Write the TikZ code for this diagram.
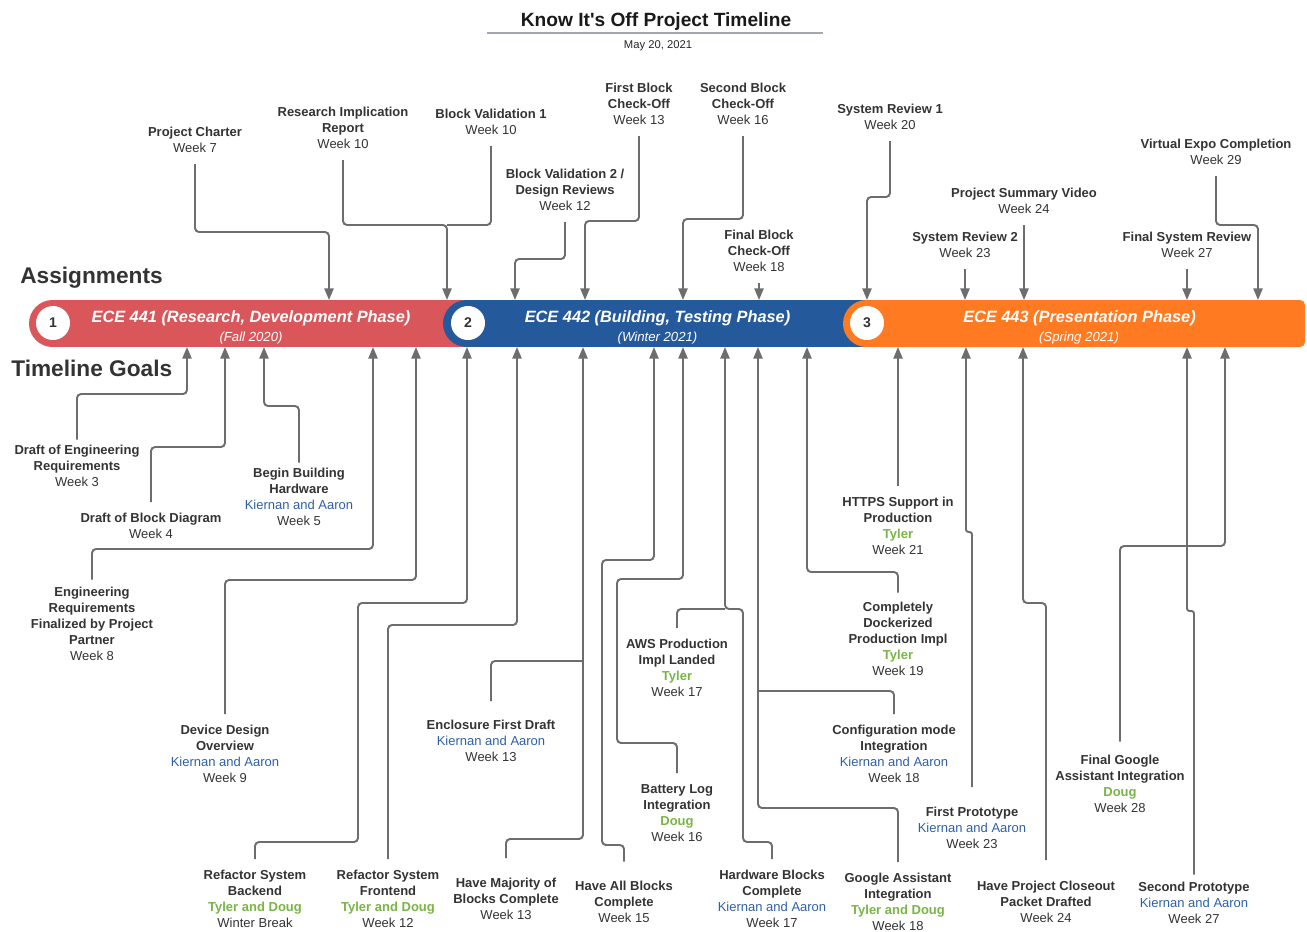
\documentclass[tikz,border=0pt]{standalone}
\usepackage{fontspec}
\setmainfont{Liberation Sans}
\usetikzlibrary{arrows.meta}

\definecolor{ecered}{HTML}{D9575A}
\definecolor{eceblue}{HTML}{245A9B}
\definecolor{eceorange}{HTML}{FF7A21}
\definecolor{txtgray}{HTML}{333333}
\definecolor{linegray}{HTML}{6D6D6D}
\definecolor{rulegray}{HTML}{A3A7B2}
\definecolor{kablue}{HTML}{2E5FA8}
\definecolor{tdgreen}{HTML}{78B545}

\newcommand{\kiernan}{\textcolor{kablue}{\mdseries Kiernan and Aaron}}
\newcommand{\tylerdoug}{\textcolor{tdgreen}{Tyler and Doug}}
\newcommand{\tyler}{\textcolor{tdgreen}{Tyler}}
\newcommand{\doug}{\textcolor{tdgreen}{Doug}}
\newcommand{\wk}[1]{\textmd{Week #1}}

\tikzset{
  lbl/.style={align=center,anchor=north,inner sep=0pt,text=txtgray,font=\fontsize{7.4}{9.1}\selectfont\bfseries},
  head/.style={anchor=base west,inner sep=0pt,text=txtgray,font=\fontsize{12.9}{15}\selectfont\bfseries},
  phase/.style={anchor=base,inner sep=0pt,text=white,font=\fontsize{9.3}{11}\selectfont\bfseries\itshape},
  phasesub/.style={anchor=base,inner sep=0pt,text=white,font=\fontsize{7.5}{9}\selectfont\itshape},
  num/.style={circle,fill=white,minimum size=0.68cm,inner sep=0pt,text=txtgray,font=\fontsize{8}{9}\selectfont\bfseries},
  conn/.style={draw=linegray,line width=1.1pt,rounded corners=0.08cm,shorten <=0.22cm},
  arr/.style={conn,-{Triangle[width=5.2pt,length=6.6pt]}},
}

\begin{document}
\begin{tikzpicture}[x=0.02cm,y=-0.02cm]
\useasboundingbox (0,0) rectangle (1307,931);

% title
\node[anchor=base,inner sep=0pt,text=black!90,font=\fontsize{10.9}{13}\selectfont\bfseries] (title) at (656,26) {Know It\textquotesingle s Off Project Timeline};
\draw[rulegray,line width=1.2pt] (487,33) -- (823,33);
\node[anchor=base,inner sep=0pt,text=black!85,font=\fontsize{6.4}{8}\selectfont] (date) at (658,48) {May 20, 2021};

\node[head] (assign) at (20,283) {Assignments};
\node[head] (goals) at (11,376) {Timeline Goals};

% phase bars
\fill[ecered] (52.5,300) rectangle (480,347);
\fill[ecered] (52.5,323.5) circle[radius=0.47cm];
\fill[eceblue] (466.5,300) rectangle (880,347);
\fill[eceblue] (466.5,323.5) circle[radius=0.47cm];
\fill[eceorange,rounded corners=0.1cm] (866.5,300) rectangle (1305,347);
\fill[eceorange] (866.5,323.5) circle[radius=0.47cm];

\node[num] (n1) at (53,323) {1};
\node[num] (n2) at (468,323) {2};
\node[num] (n3) at (867,323) {3};

\node[phase] (ece441) at (251,322) {ECE 441 (Research, Development Phase)};
\node[phasesub] (fall) at (251,341.5) {(Fall 2020)};
\node[phase] (ece442) at (657.5,322) {ECE 442 (Building, Testing Phase)};
\node[phasesub] (winter) at (657.5,341.5) {(Winter 2021)};
\node[phase] (ece443) at (1079.5,322) {ECE 443 (Presentation Phase)};
\node[phasesub] (spring) at (1079,341.5) {(Spring 2021)};

% assignments
\node[lbl] (pc) at (195,127) {Project Charter\\\wk{7}};
\node[lbl] (rir) at (343,107) {Research Implication\\Report\\\wk{10}};
\node[lbl] (bv1) at (491,109) {Block Validation 1\\\wk{10}};
\node[lbl] (bv2) at (565,169) {Block Validation 2 /\\Design Reviews\\\wk{12}};
\node[lbl] (fbc) at (639,83) {First Block\\Check-Off\\\wk{13}};
\node[lbl] (sbc) at (743,83) {Second Block\\Check-Off\\\wk{16}};
\node[lbl] (finbc) at (759,230) {Final Block\\Check-Off\\\wk{18}};
\node[lbl] (sr1) at (890,104) {System Review 1\\\wk{20}};
\node[lbl] (psv) at (1024,188) {Project Summary Video\\\wk{24}};
\node[lbl] (sr2) at (965,232) {System Review 2\\\wk{23}};
\node[lbl] (fsr) at (1187,232) {Final System Review\\\wk{27}};
\node[lbl] (vec) at (1216,139) {Virtual Expo Completion\\\wk{29}};

\draw[arr] (pc) |- (329,232) -- (329,300);
\draw[arr] (rir) |- (447,225) -- (447,300);
\draw[conn] (bv1) |- (447,225);
\draw[arr] (bv2) |- (515,259) -- (515,300);
\draw[arr] (fbc) |- (585,221) -- (585,300);
\draw[arr] (sbc) |- (683,219) -- (683,300);
\draw[arr] (finbc) -- (759,300);
\draw[arr] (sr1) |- (867,197) -- (867,300);
\draw[arr] (psv) -- (1024,300);
\draw[arr] (sr2) -- (965,300);
\draw[arr] (fsr) -- (1187,300);
\draw[arr] (vec) |- (1258,225) -- (1258,300);

% timeline goals
\node[lbl] (der) at (77,445) {Draft of Engineering\\Requirements\\\wk{3}};
\node[lbl] (dbd) at (151,513) {Draft of Block Diagram\\\wk{4}};
\node[lbl] (bbh) at (299,468) {Begin Building\\Hardware\\\kiernan\\\wk{5}};
\node[lbl] (erf) at (92,587) {Engineering\\Requirements\\Finalized by Project\\Partner\\\wk{8}};
\node[lbl] (ddo) at (225,725) {Device Design\\Overview\\\kiernan\\\wk{9}};
\node[lbl] (rsb) at (255,870) {Refactor System\\Backend\\\tylerdoug\\\textmd{Winter Break}};
\node[lbl] (rsf) at (388,870) {Refactor System\\Frontend\\\tylerdoug\\\wk{12}};
\node[lbl] (efd) at (491,720) {Enclosure First Draft\\\kiernan\\\wk{13}};
\node[lbl] (hmb) at (506,878) {Have Majority of\\Blocks Complete\\\wk{13}};
\node[lbl] (hab) at (624,881) {Have All Blocks\\Complete\\\wk{15}};
\node[lbl] (aws) at (677,639) {AWS Production\\Impl Landed\\\tyler\\\wk{17}};
\node[lbl] (blg) at (677,784) {Battery Log\\Integration\\\doug\\\wk{16}};
\node[lbl] (hbc) at (772,870) {Hardware Blocks\\Complete\\\kiernan\\\wk{17}};
\node[lbl] (cmi) at (894,725) {Configuration mode\\Integration\\\kiernan\\\wk{18}};
\node[lbl] (gai) at (898,873) {Google Assistant\\Integration\\\tylerdoug\\\wk{18}};
\node[lbl] (cdp) at (898,602) {Completely\\Dockerized\\Production Impl\\\tyler\\\wk{19}};
\node[lbl] (https) at (898,497) {HTTPS Support in\\Production\\\tyler\\\wk{21}};
\node[lbl] (fp) at (972,807) {First Prototype\\\kiernan\\\wk{23}};
\node[lbl] (hpc) at (1046,881) {Have Project Closeout\\Packet Drafted\\\wk{24}};
\node[lbl] (fga) at (1120,755) {Final Google\\Assistant Integration\\\doug\\\wk{28}};
\node[lbl] (sp) at (1194,882) {Second Prototype\\\kiernan\\\wk{27}};

\draw[arr,shorten <=0.11cm] (der) |- (187,394) -- (187,347);
\draw[arr] (dbd) |- (225,447) -- (225,347);
\draw[arr,shorten <=0.11cm] (bbh) |- (264,406) -- (264,347);
\draw[arr,shorten <=0.15cm] (erf) |- (373,549) -- (373,347);
\draw[arr] (ddo) |- (416,580) -- (416,347);
\draw[arr] (rsb) |- (358,842) |- (467,603) -- (467,347);
\draw[arr] (rsf) |- (517,625) -- (517,347);
\draw[arr,shorten <=0.4cm] (hmb) |- (583,839) -- (583,347);
\draw[conn,shorten <=0.38cm] (efd) |- (583,661);
\draw[arr,shorten <=0.39cm] (hab) |- (602,845) |- (654,560) -- (654,347);
\draw[arr] (hbc) |- (743,842) |- (725,609) -- (725,347);
\draw[conn] (aws) |- (725,609);
\draw[arr] (blg) |- (617,743) |- (683,579) -- (683,347);
\draw[arr] (gai) |- (758,808) -- (758,347);
\draw[conn] (cmi) |- (758,691);
\draw[arr,shorten <=0.19cm] (cdp) |- (807,572) -- (807,347);
\draw[arr] (https) -- (898,347);
\draw[arr,shorten <=0.4cm,rounded corners=0.05cm] (fp) |- (966,532) -- (966,347);
\draw[arr,shorten <=0.42cm] (hpc) |- (1023,603) -- (1023,347);
\draw[arr,shorten <=0.27cm] (fga) |- (1225,546) -- (1225,347);
\draw[arr,shorten <=0.15cm,rounded corners=0.05cm] (sp) |- (1187,611) -- (1187,347);
\end{tikzpicture}
\end{document}
